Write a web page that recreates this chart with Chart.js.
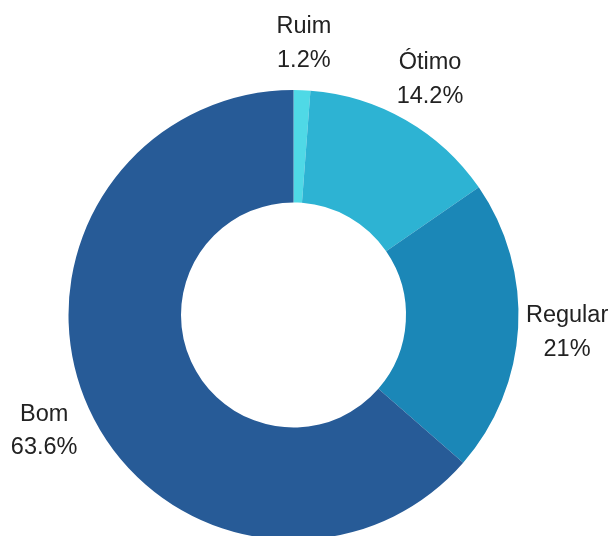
<!DOCTYPE html>
<html>
<head>
<meta charset="utf-8">
<script src="https://cdn.jsdelivr.net/npm/chart.js@4"></script>
<style>
  html, body { margin: 0; padding: 0; background: #fff; overflow: hidden; }
  #wrap { width: 612px; height: 540px; position: relative; }
</style>
</head>
<body>
<div id="wrap"><canvas id="avaliacaoChart"></canvas></div>
<script>
var categorias = ['Ruim', 'Ótimo', 'Regular', 'Bom'];
var percentuais = [1.2, 14.2, 21, 63.6];
var cores = ['#4fd9e6', '#2db3d3', '#1b87b7', '#275b97'];

// desenha o nome e o percentual fora de cada fatia
var rotulosExternos = {
  id: 'rotulosExternos',
  afterDraw: function(chart) {
    var ctx = chart.ctx;
    var meta = chart.getDatasetMeta(0);
    ctx.save();
    ctx.font = '23.5px "Liberation Sans", Arial, sans-serif';
    ctx.fillStyle = '#222';
    ctx.textAlign = 'center';
    ctx.textBaseline = 'middle';
    meta.data.forEach(function(arc, i) {
      var meio = (arc.startAngle + arc.endAngle) / 2;
      var r = arc.outerRadius + 49;
      var x = arc.x + Math.cos(meio) * r;
      var y = arc.y + Math.sin(meio) * r;
      ctx.fillText(categorias[i], x, y - 14.5);
      ctx.fillText(percentuais[i] + '%', x, y + 19);
    });
    ctx.restore();
  }
};

var ctx = document.getElementById('avaliacaoChart').getContext('2d');
var chart = new Chart(ctx, {
  type: 'doughnut',
  data: {
    labels: categorias,
    datasets: [{
      data: percentuais,
      backgroundColor: cores,
      borderWidth: 0
    }]
  },
  options: {
    responsive: true,
    maintainAspectRatio: false,
    animation: false,
    cutout: '50%',
    layout: { padding: { top: 90, left: 68.5, right: 93.5, bottom: 0 } },
    plugins: {
      legend: { display: false },
      tooltip: { enabled: false }
    }
  },
  plugins: [rotulosExternos]
});
</script>
</body>
</html>
